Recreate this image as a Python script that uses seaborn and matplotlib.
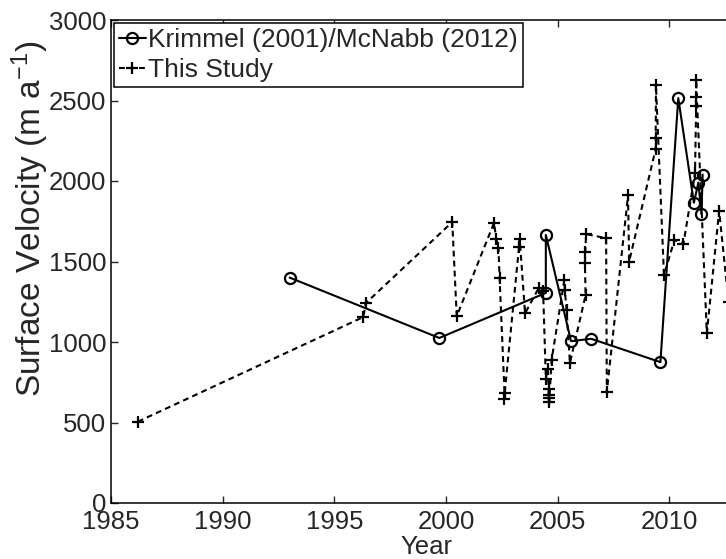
import matplotlib
matplotlib.use("Agg")
import matplotlib.pyplot as plt
import seaborn as sns

# Krimmel (2001) / McNabb (2012) velocities
krimmel_year = [1993.0, 1999.7, 2004.47, 2004.47, 2005.6, 2006.5, 2009.6,
                2010.4, 2011.1, 2011.3, 2011.44, 2011.49]
krimmel_vel = [1400, 1025, 1305, 1665, 1005, 1020, 875,
               2515, 1865, 1990, 1795, 2040]

# Velocities from this study
study_year = [1986.2, 1996.3, 1996.4, 2000.28, 2000.48, 2002.15, 2002.25,
              2002.35, 2002.4, 2002.62, 2002.6, 2003.27, 2003.3, 2003.54,
              2004.15, 2004.35, 2004.47, 2004.55, 2004.6, 2004.6, 2004.61,
              2004.62, 2004.73, 2005.3, 2005.32, 2005.4, 2005.55, 2006.25,
              2006.22, 2006.24, 2006.27, 2007.17, 2007.2, 2008.15, 2008.2,
              2009.39, 2009.39, 2009.4, 2009.76, 2010.23, 2010.63, 2011.15,
              2011.2, 2011.2, 2011.2, 2011.68, 2012.23, 2012.65]
study_vel = [505, 1155, 1240, 1745, 1160, 1740, 1640,
             1585, 1395, 685, 645, 1590, 1640, 1178,
             1335, 1315, 770, 830, 710, 670, 650,
             630, 890, 1385, 1320, 1200, 870, 1290,
             1490, 1560, 1670, 1645, 690, 1910, 1500,
             2200, 2270, 2595, 1416, 1634, 1609, 2048,
             2466, 2524, 2627, 1054, 1816, 1250]

x_ticks = [1985, 1990, 1995, 2000, 2005, 2010]
y_ticks = [0, 500, 1000, 1500, 2000, 2500, 3000]

sns.set_style("white")
plt.rcParams["font.family"] = ["Liberation Sans", "DejaVu Sans"]
plt.rcParams["mathtext.fontset"] = "custom"
plt.rcParams["mathtext.rm"] = "Liberation Sans"
plt.rcParams["mathtext.it"] = "Liberation Sans:italic"

fig = plt.figure(figsize=(7.26, 5.59), dpi=100)
# the axes run on past the right edge of the figure, to 2015
ax = fig.add_axes([111 / 726, 56 / 559, 670 / 726, 483 / 559])

sns.lineplot(x=krimmel_year, y=krimmel_vel, ax=ax, estimator=None, sort=False,
             color="black", linewidth=1.5, marker="o", markersize=8,
             markerfacecolor="none", markeredgecolor="black", markeredgewidth=1.6,
             label="Krimmel (2001)/McNabb (2012)")
sns.lineplot(x=study_year, y=study_vel, ax=ax, estimator=None, sort=False,
             color="black", linewidth=1.5, linestyle=(0, (2.8, 2.0)),
             marker="+", markersize=8, markeredgewidth=1.6,
             markeredgecolor="black", label="This Study")

ax.set_xlim(1985, 2015)
ax.set_ylim(0, 3000)
ax.set_xticks(x_ticks)
ax.set_yticks(y_ticks)
ax.tick_params(axis="both", which="both", direction="in", length=5, width=1.0,
               labelsize=18.5, top=True, right=False, bottom=True, left=True,
               pad=3.5)
ax.tick_params(axis="x", pad=5)
for side in ["left", "bottom", "top"]:
    ax.spines[side].set_visible(True)
    ax.spines[side].set_color("black")
    ax.spines[side].set_linewidth(1.1)
ax.spines["right"].set_visible(False)

ax.set_xlabel("Year", fontsize=18.5)
ax.xaxis.set_label_coords((426 - 111) / 670, -0.066)
ax.set_ylabel("Surface Velocity (m a$^{-1}$)", fontsize=24)
ax.yaxis.set_label_coords((51 - 111) / 670, (503 - 219) / 483)

leg = ax.legend(loc="upper left", bbox_to_anchor=(0.0045, 0.994),
                fontsize=19.0, frameon=True, fancybox=False, borderpad=0.2,
                labelspacing=0.22, handlelength=1.0, handletextpad=0.1,
                borderaxespad=0.0)
leg.get_frame().set_edgecolor("black")
leg.get_frame().set_linewidth(1.1)
leg.get_frame().set_alpha(1.0)

fig.savefig("out.png", dpi=100)
